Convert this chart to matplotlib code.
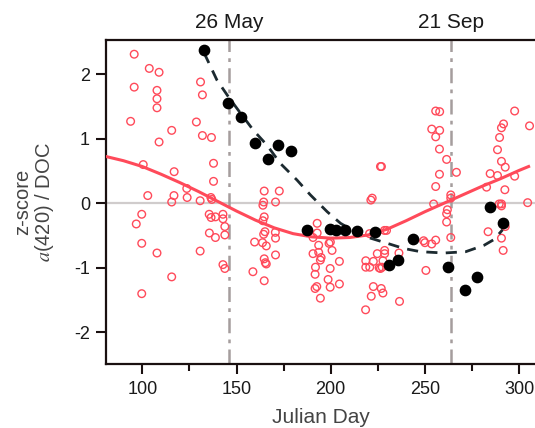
import matplotlib
matplotlib.use("Agg")
import matplotlib.pyplot as plt

plt.rcParams['font.family'] = ['Liberation Sans', 'DejaVu Sans']
plt.rcParams['mathtext.fontset'] = 'stix'

# Open red circles (all samples): Julian day, z-score
red_day = [95.7, 103.7, 108.9, 95.7, 107.8, 107.8, 107.8, 93.8, 115.6, 108.9,
           130.9, 131.9, 128.7, 131.9, 136.7, 137.8, 137.8, 100.5, 116.9, 123.6,
           102.9, 116.8, 123.8, 115.6, 130.7, 136.4, 136.9, 135.5, 136.5, 138.8,
           142.8, 142.8, 143.8, 135.6, 138.8, 143.8, 99.7, 96.8, 99.7, 107.8,
           130.7, 142.8, 143.8, 115.6, 99.7,
           164.7, 172.7, 164.4, 164.0, 170.7, 164.7, 164.0, 165.1, 164.4, 170.6,
           170.7, 159.6, 163.8, 165.8, 170.7, 164.7, 165.3, 165.8, 158.7, 164.7,
           192.8, 192.8, 190.6, 193.6, 190.6, 193.6, 194.9, 194.5, 199.1, 199.8,
           200.7, 204.6, 191.9, 199.7, 191.7, 198.6, 192.6, 191.7, 199.7, 204.6,
           194.5, 222.0, 221.3, 226.4, 226.9, 220.6, 224.7, 218.6, 222.6, 218.6,
           220.7, 225.7, 222.6, 221.5, 218.5, 228.5, 229.6, 228.6, 228.6, 227.7,
           227.3, 226.4, 226.8, 227.7, 236.2, 236.5,
           255.7, 257.8, 253.6, 257.8, 255.7, 257.7, 261.5, 257.7, 266.7, 255.7,
           263.7, 263.7, 254.6, 261.9, 261.5, 261.5, 263.7, 249.3, 250.0, 253.6,
           255.7, 250.5, 297.6, 291.7, 290.6, 289.6, 305.5, 288.5, 290.6, 292.6,
           284.6, 288.5, 297.6, 282.7, 292.4, 289.4, 290.6, 290.6, 304.5, 283.5,
           292.6, 290.6, 291.5]
red_z = [2.31, 2.09, 2.03, 1.80, 1.75, 1.62, 1.48, 1.27, 1.13, 0.95,
         1.88, 1.68, 1.26, 1.05, 1.02, 0.62, 0.34, 0.60, 0.49, 0.23,
         0.12, 0.12, 0.09, 0.02, 0.04, 0.09, 0.06, -0.17, -0.22, -0.21,
         -0.17, -0.24, -0.36, -0.46, -0.53, -0.49, -0.17, -0.32, -0.62, -0.77,
         -0.74, -0.95, -1.01, -1.14, -1.40,
         0.19, 0.19, 0.02, -0.03, 0.02, -0.21, -0.27, -0.44, -0.48, -0.45,
         -0.54, -0.60, -0.61, -0.66, -0.80, -0.86, -0.92, -0.94, -1.06, -1.20,
         -0.31, -0.46, -0.53, -0.65, -0.78, -0.76, -0.84, -0.88, -0.62, -0.60,
         -0.73, -0.90, -0.99, -1.01, -1.10, -1.18, -1.29, -1.32, -1.30, -1.25,
         -1.47, 0.08, 0.05, 0.57, 0.57, -0.47, -0.78, -0.89, -0.90, -0.99,
         -0.99, -1.00, -1.29, -1.44, -1.65, -0.42, -0.42, -0.73, -0.78, -0.89,
         -0.99, -1.01, -1.32, -1.39, -0.77, -1.52,
         1.43, 1.42, 1.15, 1.13, 1.03, 0.84, 0.68, 0.45, 0.48, 0.26,
         0.13, 0.08, -0.01, -0.10, -0.16, -0.29, -0.53, -0.58, -0.61, -0.63,
         -0.57, -1.04, 1.43, 1.23, 1.17, 1.02, 1.20, 0.83, 0.65, 0.56,
         0.46, 0.43, 0.42, 0.25, 0.21, -0.01, -0.01, -0.04, 0.01, -0.44,
         -0.36, -0.54, -0.73]

# Filled black circles
blk_day = [132.8, 145.7, 152.5, 159.6, 171.8, 178.7, 166.9, 187.6, 199.5, 202.7,
           207.7, 213.7, 223.6, 230.7, 235.6, 243.6, 262.4, 271.5, 277.5, 284.4,
           291.5]
blk_z = [2.38, 1.56, 1.34, 0.94, 0.91, 0.81, 0.68, -0.41, -0.40, -0.42,
         -0.42, -0.43, -0.44, -0.96, -0.88, -0.55, -0.98, -1.35, -1.14, -0.06,
         -0.31]

# Red fitted curve
fit_day = [80, 90, 100, 110, 120, 130, 140, 150, 160, 170, 180, 190, 200,
           210, 220, 230, 240, 250, 260, 270, 280, 290, 300, 305]
fit_z = [0.73, 0.66, 0.57, 0.45, 0.32, 0.18, 0.03, -0.12, -0.26, -0.38, -0.47,
         -0.52, -0.54, -0.53, -0.49, -0.40, -0.27, -0.13, 0.0, 0.13, 0.26,
         0.38, 0.51, 0.57]

# Black dashed curve
dash_day = [132.8, 139.6, 145.7, 151.0, 159.0, 166.2, 173.2, 182.1, 189.2,
            198.1, 205.2, 214.0, 221.1, 230.0, 238.8, 247.7, 260.1, 271.6,
            281.4, 286.7, 291.2]
dash_z = [2.33, 1.91, 1.65, 1.44, 1.13, 0.90, 0.62, 0.36, 0.13, -0.13, -0.31,
          -0.46, -0.54, -0.62, -0.70, -0.75, -0.77, -0.75, -0.65, -0.56, -0.41]

event_days = [146, 264]
event_labels = ['26 May', '21 Sep']
x_ticks = [100, 150, 200, 250, 300]
y_ticks = [-2, -1, 0, 1, 2]

RED = '#ff4a5a'

fig = plt.figure(figsize=(5.35, 4.28), dpi=100)
ax = fig.add_axes([0.198, 0.1495, 0.802, 0.757])

ax.axhline(0, color='#d0cccc', lw=1.6, zorder=1)
for d in event_days:
    ax.axvline(d, color='#a59d9d', lw=1.8, ls=(0, (6, 2.5, 1.5, 2.5)), zorder=1)

ax.plot(fit_day, fit_z, color=RED, lw=2.2, zorder=3)
ax.scatter(red_day, red_z, s=30, facecolors='none', edgecolors=RED,
           linewidths=1.0, zorder=4)
ax.plot(dash_day, dash_z, color='#1c2a30', lw=2.0, ls=(0, (4, 3)), zorder=5)
ax.scatter(blk_day, blk_z, s=55, color='black', zorder=6)

ax.set_xlim(80.7, 308.4)
ax.set_ylim(-2.49, 2.53)
ax.set_xticks(x_ticks)
ax.set_xticks([125, 175, 225, 275], minor=True)
ax.set_yticks(y_ticks)
ax.set_yticklabels([str(v) for v in y_ticks])

for s in ['left', 'bottom', 'top']:
    ax.spines[s].set_linewidth(1.6)
    ax.spines[s].set_color('#1a1010')
ax.spines['right'].set_visible(False)

ax.tick_params(axis='both', which='major', length=7.5, width=1.5,
               labelsize=13, colors='#1a1010', labelcolor='#1a1a1a')
ax.tick_params(axis='x', which='minor', length=5, width=1.5, colors='#1a1010')
ax.tick_params(axis='x', pad=5)
ax.tick_params(axis='y', pad=4)

ax.set_xlabel('Julian Day', fontsize=15, color='#444444', labelpad=7)
ax.set_ylabel('z-score\n$a$(420) / DOC', fontsize=14.5, color='#444444',
              labelpad=13, linespacing=1.05)

top = ax.secondary_xaxis('top')
top.set_xticks(event_days)
top.set_xticklabels(event_labels)
top.tick_params(length=0, labelsize=15, pad=6, labelcolor='#1a1a1a')
top.spines['top'].set_visible(False)

fig.savefig('out.png', dpi=100)
